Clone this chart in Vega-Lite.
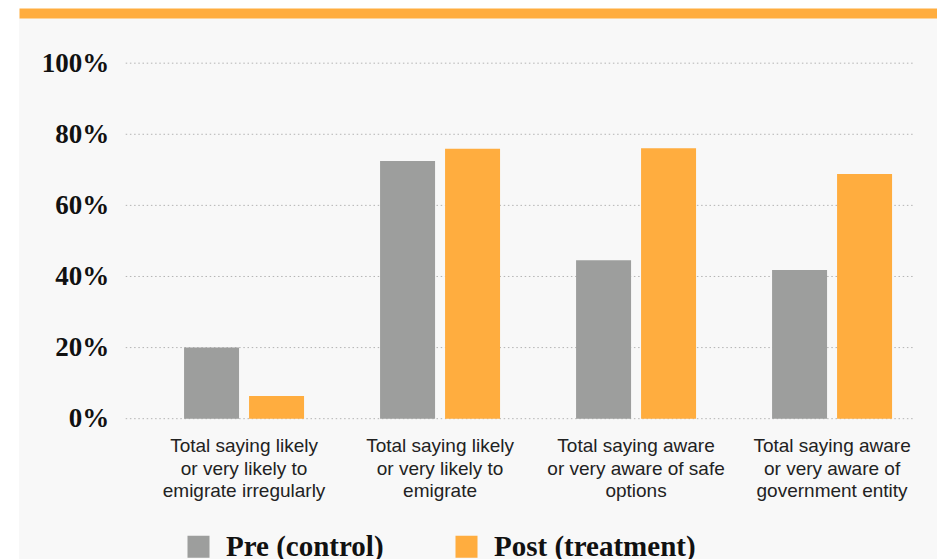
{
  "$schema": "https://vega.github.io/schema/vega-lite/v6.json",
  "width": 918,
  "height": 541,
  "autosize": {"type": "none"},
  "padding": {"left": 19, "top": 18, "right": 0, "bottom": 0},
  "background": "#ffffff",
  "config": {
    "view": {"fill": "#f8f8f8", "stroke": null}
  },
  "resolve": {"scale": {"x": "independent"}, "axis": {"x": "independent"}},
  "layer": [
    {
      "data": {"values": [{"tick": 0}, {"tick": 20}, {"tick": 40}, {"tick": 60}, {"tick": 80}, {"tick": 100}]},
      "mark": {"type": "rule", "color": "#b4b4b4", "strokeWidth": 1, "strokeDash": [1.5, 2.7]},
      "encoding": {
        "x": {
          "datum": 0,
          "type": "quantitative",
          "scale": {"domain": [-13.56, 103.09], "nice": false, "zero": false},
          "axis": {
            "orient": "top",
            "offset": 5,
            "domain": true,
            "domainColor": "#ffad3f",
            "domainWidth": 10,
            "labels": false,
            "ticks": false,
            "grid": false,
            "title": null
          }
        },
        "x2": {"datum": 100},
        "y": {
          "field": "tick",
          "type": "quantitative",
          "scale": {"domain": [-39.47, 112.71], "nice": false, "zero": false},
          "axis": {
            "orient": "left",
            "offset": -106.7,
            "values": [0, 20, 40, 60, 80, 100],
            "labelExpr": "datum.value + '%'",
            "grid": false,
            "domain": false,
            "ticks": false,
            "labelPadding": 17,
            "labelFont": "Liberation Serif",
            "labelFontSize": 27,
            "labelFontWeight": "bold",
            "labelColor": "#111111",
            "title": null
          }
        }
      }
    },
    {
      "data": {
        "values": [
          {"measure": "Total saying likely\nor very likely to\nemigrate irregularly", "group": "Pre (control)", "value": 20.0},
          {"measure": "Total saying likely\nor very likely to\nemigrate irregularly", "group": "Post (treatment)", "value": 6.4},
          {"measure": "Total saying likely\nor very likely to\nemigrate", "group": "Pre (control)", "value": 72.5},
          {"measure": "Total saying likely\nor very likely to\nemigrate", "group": "Post (treatment)", "value": 75.9},
          {"measure": "Total saying aware\nor very aware of safe\noptions", "group": "Pre (control)", "value": 44.6},
          {"measure": "Total saying aware\nor very aware of safe\noptions", "group": "Post (treatment)", "value": 76.1},
          {"measure": "Total saying aware\nor very aware of\ngovernment entity", "group": "Pre (control)", "value": 41.8},
          {"measure": "Total saying aware\nor very aware of\ngovernment entity", "group": "Post (treatment)", "value": 68.8}
        ]
      },
      "mark": {"type": "bar"},
      "encoding": {
        "x": {
          "field": "measure",
          "type": "nominal",
          "sort": null,
          "scale": {"paddingInner": 0.3878, "paddingOuter": 0.5357, "align": 0.786},
          "axis": {
            "orient": "bottom",
            "offset": -140.3,
            "labelAngle": 0,
            "labelExpr": "split(datum.label, '\\n')",
            "labelLineHeight": 22.5,
            "labelPadding": 18,
            "labelFont": "Liberation Sans",
            "labelFontSize": 19,
            "labelColor": "#222222",
            "labelLimit": 300,
            "domain": false,
            "ticks": false,
            "grid": false,
            "title": null
          }
        },
        "xOffset": {
          "field": "group",
          "type": "nominal",
          "sort": ["Pre (control)", "Post (treatment)"],
          "scale": {"paddingInner": 0.1538, "paddingOuter": 0}
        },
        "y": {
          "field": "value",
          "type": "quantitative",
          "scale": {"domain": [-39.47, 112.71], "nice": false, "zero": false},
          "axis": {
            "orient": "left",
            "offset": -106.7,
            "values": [0, 20, 40, 60, 80, 100],
            "labelExpr": "datum.value + '%'",
            "grid": false,
            "domain": false,
            "ticks": false,
            "labelPadding": 17,
            "labelFont": "Liberation Serif",
            "labelFontSize": 27,
            "labelFontWeight": "bold",
            "labelColor": "#111111",
            "title": null
          }
        },
        "y2": {"datum": 0},
        "color": {
          "field": "group",
          "type": "nominal",
          "scale": {"domain": ["Pre (control)", "Post (treatment)"], "range": ["#9d9e9d", "#ffad3f"]},
          "legend": {
            "orient": "none",
            "legendX": 165,
            "legendY": 514,
            "direction": "horizontal",
            "title": null,
            "padding": 0,
            "symbolType": "square",
            "symbolSize": 484,
            "symbolStrokeWidth": 0,
            "labelFont": "Liberation Serif",
            "labelFontSize": 29,
            "labelFontWeight": "bold",
            "labelColor": "#111111",
            "labelOffset": 13,
            "labelLimit": 400,
            "columnPadding": 68
          }
        }
      }
    }
  ]
}
